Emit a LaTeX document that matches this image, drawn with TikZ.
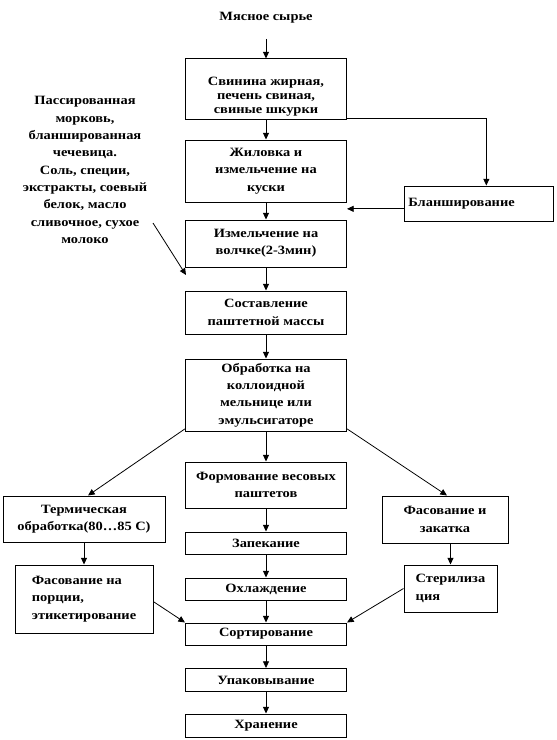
\documentclass[tikz,border=0pt]{standalone}
\usepackage{fontspec}
\setmainfont[FakeStretch=1.14]{Liberation Serif}
\usepackage{tikz}
\usetikzlibrary{arrows.meta,positioning,calc}

\begin{document}
\begin{tikzpicture}[
  x=0.75pt,y=-0.75pt,
  every node/.style={font=\fontsize{9.5}{13}\selectfont\bfseries,align=center},
  stepbox/.style={rectangle,draw,line width=0.75pt,inner sep=2pt},
  midbox/.style={stepbox,minimum width=120.75pt},
  arrow/.style={-{Triangle[length=5pt,width=4.5pt]},line width=0.6pt}
]
\useasboundingbox (0,0) rectangle (557,740);

% main column
\node (raw) at (266,18) {Мясное сырье};
\node[midbox,minimum height=43.5pt,font=\fontsize{9.5}{10.5}\selectfont\bfseries] (cut) at (266,89) {\rule{0pt}{18pt}Свинина жирная,\\печень свиная,\\свиные шкурки};
\node[midbox,minimum height=46.5pt] (trim) at (266,171) {Жиловка и\\измельчение на\\куски};
\node[midbox,minimum height=35.25pt] (mince) at (266,243.5) {Измельчение на\\волчке(2-3мин)};
\node[midbox,minimum height=32.25pt] (mass) at (266,312.5) {Составление\\паштетной массы};
\node[midbox,minimum height=54pt] (mill) at (266,395) {Обработка на\\коллоидной\\мельнице или\\эмульсигаторе};
\node[midbox,minimum height=34.5pt] (form) at (266,485) {Формование весовых\\паштетов};
\node[midbox,minimum height=16.5pt] (bake) at (266,543) {Запекание};
\node[midbox,minimum height=16.5pt] (cool) at (266,589) {Охлаждение};
\node[midbox,minimum height=16.5pt] (sort) at (266,634) {Сортирование};
\node[midbox,minimum height=17.25pt] (pack) at (266,680) {Упаковывание};
\node[midbox,minimum height=17.25pt] (store) at (266,725.5) {Хранение};

% side branches
\node[stepbox,text width=106pt,align=left,minimum height=26.25pt,inner sep=3pt] (blanch) at (479,203.5) {Бланширование};
\node (extra) at (85,170) {Пассированная\\морковь,\\бланшированная\\чечевица.\\Соль, специи,\\экстракты, соевый\\белок, масло\\сливочное, сухое\\молоко};
\node[stepbox,minimum width=121.5pt,minimum height=34.5pt] (heat) at (84,519) {Термическая\\обработка(80…85 С)};
\node[stepbox,minimum width=103.5pt,minimum height=51pt,align=left] (portion) at (84,599) {Фасование на\\порции,\\этикетирование};
\node[stepbox,minimum width=94.5pt,minimum height=35.25pt] (seal) at (445,519.5) {Фасование и\\закатка};
\node[stepbox,minimum width=69.75pt,minimum height=35.25pt,align=left] (steril) at (450.5,588.5) {Стерилиза\\ция};

\coordinate (feedfrom) at (153,223);
\coordinate (feed) at (186,275);

\draw[arrow,shorten <=8pt] (raw) -- (cut);
\draw[arrow] (cut) -- (trim);
\draw[arrow] (trim) -- (mince);
\draw[arrow] (mince) -- (mass);
\draw[arrow] (mass) -- (mill);
\draw[arrow] (mill) -- (form);
\draw[arrow] (form) -- (bake);
\draw[arrow] (bake) -- (cool);
\draw[arrow] (cool) -- (sort);
\draw[arrow] (sort) -- (pack);
\draw[arrow] (pack) -- (store);

\draw[arrow] ([yshift=0.75pt]cut.south east) -| ([xshift=5.5pt]blanch.north);
\draw[arrow] ([yshift=-4pt]blanch.west) -- ([yshift=-4pt]blanch.west -| trim.east);
\draw[arrow] (feedfrom) -- (feed);

\draw[arrow] ([yshift=2pt]mill.south west) -- ([xshift=3pt]heat.north);
\draw[arrow] ([yshift=2pt]mill.south east) -- ([xshift=1.5pt]seal.north);
\draw[arrow] (heat) -- (portion);
\draw[arrow] (steril.north |- seal.south) -- (steril.north);
\draw[arrow] ([yshift=-2pt]portion.east) -- (sort.north west);
\draw[arrow] (steril.west) -- (sort.north east);
\end{tikzpicture}
\end{document}
